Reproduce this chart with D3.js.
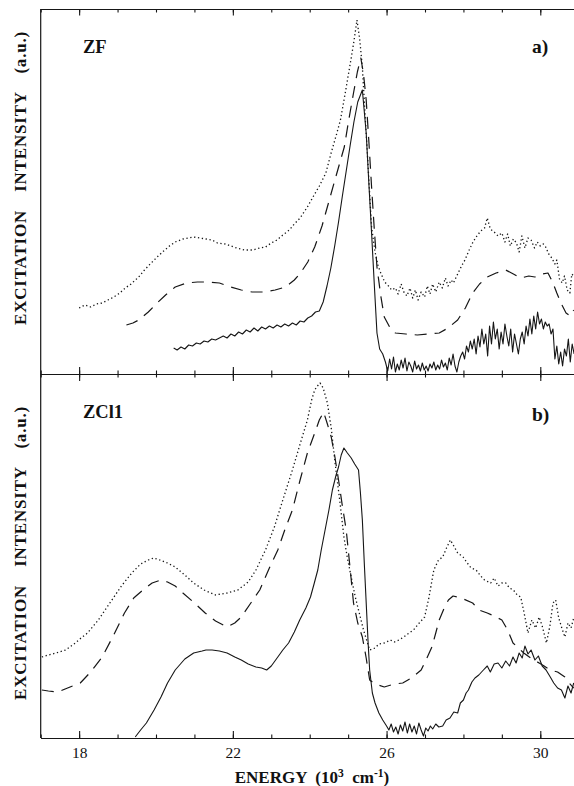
<!DOCTYPE html>
<html>
<head>
<meta charset="utf-8">
<script src="https://cdn.jsdelivr.net/npm/d3@7"></script>
<style>
  html, body { margin: 0; padding: 0; background: #fff; }
  svg { display: block; }
  svg text { font-family: "Liberation Serif", "DejaVu Serif", "Times New Roman", Times, serif; fill: #111; }
</style>
</head>
<body>
<svg id="chart" width="574" height="786"></svg>
<script>
// ---------------- DATA ----------------
const xMajorTicks = [18, 22, 26, 30];
const xMinorTicks = [17, 18, 19, 20, 21, 22, 23, 24, 25, 26, 27, 28, 29, 30, 31];
const panelLabels = ["ZF", "ZCl1"];
const panelLetters = ["a)", "b)"];
const yLabel = "EXCITATION  INTENSITY  (a.u.)";

// Panel a) ZF  [energy (10^3 cm-1), intensity (a.u.)]
const zfDotted = [
  [18.0,66],[18.15,69],[18.3,67],[18.45,70],[18.6,71],[18.75,74],[18.9,77],[19.06,81],[19.2,86],[19.35,90],
  [19.55,97],[19.7,104],[19.85,110],[20.03,117],[20.2,123],[20.35,128],[20.5,132],[20.7,135],[20.85,136],
  [20.98,137],[21.15,136],[21.3,135],[21.46,134],[21.6,131],[21.8,130],[21.95,128],[22.1,126],[22.3,124],
  [22.52,124],[22.7,126],[22.85,127],[23.0,131],[23.15,134],[23.3,139],[23.47,144],[23.6,150],[23.75,156],
  [23.94,167],[24.1,178],[24.25,188],[24.42,201],[24.55,220],[24.7,240],[24.8,254],[24.92,280],[25.04,307],
  [25.14,330],[25.23,354],[25.3,335],[25.37,307],[25.44,260],[25.51,214],[25.56,180],[25.61,147],[25.7,122],
  [25.78,108],[25.85,101],[25.95,92],[26.05,88],[26.13,84],[26.23,86],[26.3,80],[26.38,90],[26.45,82],
  [26.53,78],[26.61,86],[26.68,76],[26.75,84],[26.82,74],[26.9,82],[26.99,77],[27.06,88],[27.13,80],
  [27.2,90],[27.28,82],[27.37,92],[27.45,86],[27.53,96],[27.6,88],[27.68,94],[27.74,91],[27.85,100],
  [27.95,108],[28.04,114],[28.15,124],[28.25,132],[28.33,137],[28.45,143],[28.55,146],[28.62,156],[28.7,145],
  [28.8,142],[28.9,138],[29.0,141],[29.08,132],[29.15,140],[29.22,128],[29.3,135],[29.38,131],[29.45,122],
  [29.52,138],[29.6,126],[29.68,136],[29.76,134],[29.85,126],[29.92,132],[30.0,128],[30.08,130],[30.14,127],
  [30.22,120],[30.3,116],[30.38,110],[30.43,114],[30.5,95],[30.57,91],[30.63,98],[30.7,84],[30.77,81],
  [30.82,100],[30.87,98]
];
const zfDashed = [
  [19.23,49],[19.4,51],[19.55,54],[19.8,62],[20.03,71],[20.25,79],[20.5,87],[20.8,91],[21.08,92],[21.35,92],
  [21.65,91],[21.95,87],[22.22,84],[22.5,82],[22.8,82],[23.1,84],[23.37,87],[23.6,94],[23.76,101],[23.95,112],
  [24.13,127],[24.32,148],[24.51,174],[24.7,200],[24.9,227],[25.02,255],[25.14,281],[25.24,302],[25.33,316],
  [25.4,300],[25.47,274],[25.54,232],[25.61,187],[25.68,145],[25.75,107],[25.85,78],[25.94,57],[26.08,47],
  [26.23,41],[26.5,40],[26.8,39],[27.1,40],[27.37,41],[27.6,46],[27.85,54],[28.05,66],[28.24,81],[28.42,90],
  [28.62,97],[28.85,101],[29.1,104],[29.3,100],[29.49,96],[29.7,98],[29.86,97],[30.05,100],[30.2,101],
  [30.32,92],[30.43,81],[30.55,70],[30.67,61],[30.78,58],[30.87,64]
];
const zfSolid = [
  [20.46,26],[20.55,24],[20.65,27],[20.75,25],[20.85,29],[20.95,28],[21.05,31],[21.15,30],[21.25,33],[21.35,32],
  [21.45,35],[21.55,34],[21.65,36],[21.75,38],[21.85,36],[21.95,40],[22.05,38],[22.15,42],[22.25,40],[22.35,44],
  [22.45,42],[22.55,46],[22.65,43],[22.75,47],[22.85,45],[22.95,48],[23.05,46],[23.15,49],[23.25,47],[23.35,50],
  [23.45,48],[23.55,51],[23.65,49],[23.75,53],[23.85,52],[23.95,56],[24.05,58],[24.15,62],[24.25,63],[24.35,72],
  [24.45,88],[24.55,106],[24.65,128],[24.75,152],[24.85,178],[24.95,203],[25.05,228],[25.15,252],[25.25,272],
  [25.37,284],[25.47,241],[25.54,190],[25.61,141],[25.68,90],[25.75,41],[25.82,25],[25.9,20],[25.97,12],
  [26.03,3],[26.08,15],[26.13,5],[26.18,17],[26.23,2],[26.28,10],[26.33,4],[26.38,14],[26.43,6],[26.48,16],
  [26.53,3],[26.58,12],[26.63,8],[26.68,2],[26.73,13],[26.78,5],[26.83,9],[26.88,3],[26.93,11],[26.98,4],
  [27.03,8],[27.08,3],[27.13,10],[27.18,6],[27.23,12],[27.28,4],[27.33,9],[27.38,5],[27.43,14],[27.48,7],
  [27.53,11],[27.58,4],[27.63,16],[27.68,9],[27.73,20],[27.78,8],[27.83,2],[27.88,12],[27.93,18],[27.98,22],
  [28.03,15],[28.08,28],[28.13,22],[28.18,33],[28.23,25],[28.28,35],[28.33,20],[28.38,38],[28.43,27],[28.48,45],
  [28.53,30],[28.58,40],[28.63,18],[28.68,48],[28.73,30],[28.78,52],[28.83,35],[28.88,45],[28.93,25],[28.98,42],
  [29.03,30],[29.08,50],[29.13,38],[29.18,28],[29.23,45],[29.28,22],[29.33,40],[29.38,30],[29.43,20],[29.48,35],
  [29.53,42],[29.58,30],[29.63,48],[29.68,38],[29.73,55],[29.78,40],[29.83,58],[29.88,45],[29.93,62],[29.98,50],
  [30.03,55],[30.08,45],[30.13,52],[30.18,48],[30.23,50],[30.28,40],[30.33,45],[30.38,15],[30.43,28],[30.48,10],
  [30.53,22],[30.58,8],[30.63,25],[30.68,18],[30.73,35],[30.78,12],[30.83,30],[30.88,20]
];

// Panel b) ZCl1
const zcDotted = [
  [17.03,81],[17.2,83],[17.4,85],[17.65,88],[17.9,95],[18.05,100],[18.22,105],[18.5,118],[18.8,135],[19.1,152],
  [19.37,165],[19.6,174],[19.8,178],[19.94,180],[20.1,178],[20.3,175],[20.5,171],[20.75,163],[20.98,155],
  [21.25,148],[21.55,143],[21.85,145],[22.13,148],[22.4,156],[22.6,168],[22.85,188],[23.08,211],[23.3,238],
  [23.55,268],[23.75,294],[23.94,318],[24.05,338],[24.13,348],[24.2,352],[24.27,355],[24.35,350],[24.46,335],
  [24.56,310],[24.66,275],[24.78,238],[24.89,201],[24.98,180],[25.08,161],[25.18,142],[25.27,128],[25.4,108],
  [25.56,88],[25.7,90],[25.8,94],[25.94,95],[26.1,98],[26.2,96],[26.32,98],[26.45,101],[26.55,104],[26.7,108],
  [26.85,115],[26.99,121],[27.1,140],[27.23,168],[27.35,178],[27.46,181],[27.56,190],[27.66,198],[27.75,192],
  [27.85,185],[27.99,181],[28.1,175],[28.2,170],[28.33,168],[28.45,162],[28.55,158],[28.71,155],[28.8,160],
  [28.9,152],[29.0,155],[29.1,155],[29.2,150],[29.3,148],[29.4,143],[29.49,141],[29.58,125],[29.68,105],
  [29.78,118],[29.88,110],[29.97,121],[30.05,112],[30.16,95],[30.25,112],[30.33,135],[30.4,138],[30.48,120],
  [30.56,110],[30.64,101],[30.72,115],[30.8,110],[30.87,120]
];
const zcDashed = [
  [17.03,48],[17.2,47],[17.45,46],[17.7,50],[18.03,55],[18.3,66],[18.6,81],[18.9,103],[19.18,125],[19.42,140],
  [19.66,148],[19.9,155],[20.13,158],[20.3,156],[20.5,152],[20.7,145],[21.0,135],[21.28,125],[21.55,117],
  [21.85,111],[22.05,115],[22.22,121],[22.45,134],[22.7,148],[22.95,170],[23.17,188],[23.35,208],[23.55,228],
  [23.75,258],[23.94,285],[24.13,305],[24.25,318],[24.36,326],[24.46,314],[24.56,301],[24.66,280],[24.75,258],
  [24.85,232],[24.95,208],[25.05,170],[25.14,135],[25.25,115],[25.37,101],[25.47,80],[25.56,58],[25.7,54],
  [25.94,51],[26.2,54],[26.42,55],[26.65,60],[26.9,68],[27.05,80],[27.18,91],[27.28,105],[27.37,118],[27.5,130],
  [27.61,138],[27.73,142],[27.85,141],[28.0,139],[28.24,135],[28.4,128],[28.62,125],[28.8,122],[29.0,118],
  [29.15,108],[29.29,95],[29.43,90],[29.57,85],[29.75,80],[29.97,75],[30.1,72],[30.26,68],[30.45,66],
  [30.64,61],[30.75,55],[30.87,50]
];
const zcSolid = [
  [19.46,1],[19.6,8],[19.75,15],[19.95,28],[20.13,41],[20.3,55],[20.5,68],[20.75,79],[20.98,85],[21.2,87],
  [21.3,88],[21.46,88],[21.65,87],[21.85,85],[22.05,81],[22.22,78],[22.4,74],[22.6,71],[22.75,70],[22.88,68],
  [23.0,72],[23.17,81],[23.3,88],[23.45,95],[23.6,106],[23.74,118],[23.9,130],[24.02,141],[24.12,155],
  [24.21,168],[24.3,188],[24.4,208],[24.5,228],[24.59,248],[24.68,262],[24.75,271],[24.82,283],[24.89,290],
  [24.98,285],[25.08,280],[25.17,274],[25.27,268],[25.32,245],[25.37,218],[25.42,175],[25.47,135],[25.52,95],
  [25.56,68],[25.63,45],[25.7,35],[25.8,25],[25.9,18],[26.0,12],[26.06,8],[26.12,14],[26.18,6],[26.24,11],
  [26.3,4],[26.36,13],[26.42,7],[26.48,16],[26.54,5],[26.6,14],[26.66,6],[26.72,12],[26.78,4],[26.84,15],
  [26.9,8],[26.96,2],[27.02,10],[27.08,7],[27.14,12],[27.2,9],[27.28,14],[27.36,11],[27.46,12],[27.55,18],
  [27.65,20],[27.75,26],[27.85,25],[27.92,35],[28.0,38],[28.07,45],[28.13,48],[28.22,56],[28.3,60],[28.4,63],
  [28.52,68],[28.62,72],[28.7,66],[28.8,74],[28.9,75],[29.0,70],[29.1,77],[29.2,72],[29.29,81],[29.37,75],
  [29.45,85],[29.53,80],[29.6,92],[29.68,84],[29.76,88],[29.86,78],[29.95,82],[30.05,72],[30.15,68],[30.26,61],
  [30.35,55],[30.45,50],[30.55,48],[30.64,40],[30.72,52],[30.8,45],[30.87,55]
];

// ---------------- DRAW ----------------
const FONT = '"Liberation Serif", "DejaVu Serif", "Times New Roman", Times, serif';
const svg = d3.select("#chart");
const left = 40.7, pxPerUnit = 38.43;
const x = d3.scaleLinear().domain([17, 31]).range([left, left + 14 * pxPerUnit]);
const yA = d3.scaleLinear().domain([0, 365]).range([374, 9]);
const yB = d3.scaleLinear().domain([0, 364]).range([738, 374]);
const ink = "#161616";

const styles = {
  solid:  { dash: null, w: 1.1 },
  dashed: { dash: "12,8", w: 1.2 },
  dotted: { dash: "1.3,2.6", w: 1.3 }
};

function drawSeries(data, y, style) {
  const line = d3.line().x(d => x(d[0])).y(d => y(d[1]));
  svg.append("path")
    .datum(data)
    .attr("d", line)
    .attr("fill", "none")
    .attr("stroke", ink)
    .attr("stroke-width", styles[style].w)
    .attr("stroke-linejoin", "round")
    .attr("stroke-dasharray", styles[style].dash);
}

drawSeries(zfDotted, yA, "dotted");
drawSeries(zfDashed, yA, "dashed");
drawSeries(zfSolid, yA, "solid");
drawSeries(zcDotted, yB, "dotted");
drawSeries(zcDashed, yB, "dashed");
drawSeries(zcSolid, yB, "solid");

// axes
function axisAt(yPos, size, withLabels, values) {
  const ax = d3.axisBottom(x).tickValues(values).tickSizeInner(size).tickSizeOuter(0)
    .tickFormat(withLabels ? d3.format("d") : () => "");
  const g = svg.append("g").attr("transform", `translate(0,${yPos})`).call(ax);
  g.attr("font-family", FONT).attr("font-size", 15);
  g.select(".domain").attr("stroke", ink).attr("stroke-width", 1.2);
  g.selectAll(".tick line").attr("stroke", ink).attr("stroke-width", 1.1);
  g.selectAll(".tick text")
    .attr("fill", ink)
    .attr("font-family", FONT)
    .attr("font-size", 15.5)
    .attr("y", 9);
  return g;
}
// top axis (ticks down)
axisAt(9, 3.5, false, xMinorTicks);
axisAt(9, 6.5, false, xMajorTicks);
// middle axis (ticks both sides)
axisAt(374, 3.5, false, xMinorTicks);
axisAt(374, -3.5, false, xMinorTicks);
axisAt(374, 7, false, xMajorTicks);
axisAt(374, -7, false, xMajorTicks);
// bottom axis (ticks up, labels below)
axisAt(738, -3.5, false, xMinorTicks);
axisAt(738, -7, true, xMajorTicks);

// left frame line
svg.append("line")
  .attr("x1", left).attr("x2", left).attr("y1", 9).attr("y2", 738)
  .attr("stroke", ink).attr("stroke-width", 1.2);

// panel labels
const labelPos = [{ y: 53, yl: 178 }, { y: 418, yl: 553 }];
panelLabels.forEach((t, i) => {
  svg.append("text").attr("x", 83).attr("y", labelPos[i].y)
    .attr("font-family", FONT)
    .attr("font-weight", "bold").attr("font-size", 18.5).text(t);
  svg.append("text").attr("x", 532).attr("y", labelPos[i].y + (i ? 3 : 0))
    .attr("font-family", FONT)
    .attr("font-weight", "bold").attr("font-size", 19.5).text(panelLetters[i]);
  svg.append("text")
    .attr("transform", `translate(25.5,${labelPos[i].yl}) rotate(-90)`)
    .attr("text-anchor", "middle")
    .attr("font-family", FONT)
    .attr("font-weight", "bold").attr("font-size", 17)
    .style("letter-spacing", "0.8px")
    .style("word-spacing", "4px")
    .style("white-space", "pre")
    .text(yLabel);
});

// x-axis title
const xt = svg.append("text").attr("x", 312).attr("y", 783)
  .attr("text-anchor", "middle").attr("font-weight", "bold").attr("font-size", 17)
  .attr("font-family", FONT)
  .style("white-space", "pre");
xt.append("tspan").text("ENERGY  (10");
xt.append("tspan").attr("font-size", 11.5).attr("dy", -6).text("3");
xt.append("tspan").attr("dy", 6).text("  cm");
xt.append("tspan").attr("font-size", 11.5).attr("dy", -6).text("-1");
xt.append("tspan").attr("dy", 6).text(")");
</script>
</body>
</html>
